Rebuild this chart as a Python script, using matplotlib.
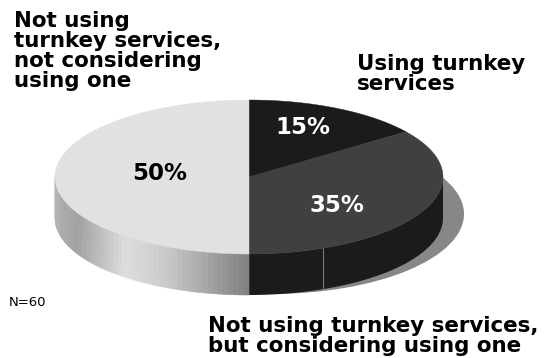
import numpy as np
import matplotlib
matplotlib.use("Agg")
import matplotlib.pyplot as plt
from matplotlib.patches import Polygon, Ellipse

# ---- data ----
categories = ["Using turnkey\nservices",
              "Not using turnkey services,\nbut considering using one",
              "Not using\nturnkey services,\nnot considering\nusing one"]
values = [15, 35, 50]
pct_labels = [f"{v}%" for v in values]
note = "N=60"

top_colors = ["#1b1b1b", "#404040", "#e1e1e1"]
side_colors = ["#1b1b1b", "#1b1b1b", None]
pct_colors = ["white", "white", "black"]

# ---- geometry (pixels) ----
W, H = 547, 358
cx, cy, rx, ry, depth = 249, 177, 194, 77, 41

fig = plt.figure(figsize=(W / 100, H / 100), dpi=100)
ax = fig.add_axes([0, 0, 1, 1])
ax.set_xlim(0, W)
ax.set_ylim(H, 0)
ax.axis("off")

def pt(t, dy=0.0):
    return cx + rx * np.cos(t), cy - ry * np.sin(t) + dy

# shadow
ax.add_patch(Ellipse((271, 214), 2 * 193, 2 * 80, facecolor="#878787",
                     edgecolor="none", zorder=1))

# slice angles: start at 90 deg, clockwise
fr = np.array(values, dtype=float) / np.sum(values)
bounds = np.deg2rad(90 - 360 * np.concatenate([[0], np.cumsum(fr)]))

def grad_gray(x):
    return np.interp(x, [55, 62, 78, 125, 165, 249],
                        [0.72, 0.67, 0.63, 0.87, 0.80, 0.50])

# sides (front only: sin(t) < 0)
for i in range(len(values)):
    t0, t1 = bounds[i], bounds[i + 1]
    lo, hi = min(t0, t1), max(t0, t1)
    ts = np.linspace(lo, hi, 400)
    ts_mod = np.mod(ts, 2 * np.pi)
    front = np.sin(ts_mod) < 0
    if not front.any():
        continue
    tf = np.sort(ts_mod[front])
    if side_colors[i] is not None:
        xs, ys = pt(tf)
        xb, yb = pt(tf[::-1], depth)
        ax.add_patch(Polygon(np.column_stack([np.r_[xs, xb], np.r_[ys, yb]]),
                             closed=True, facecolor=side_colors[i],
                             edgecolor="none", zorder=2))
    else:
        edges = np.linspace(tf.min(), tf.max(), 60)
        for a, b in zip(edges[:-1], edges[1:]):
            tt = np.linspace(a, b, 5)
            xs, ys = pt(tt)
            xb, yb = pt(tt[::-1], depth)
            g = grad_gray(np.mean(xs))
            ax.add_patch(Polygon(np.column_stack([np.r_[xs, xb], np.r_[ys, yb]]),
                                 closed=True, facecolor=(g, g, g),
                                 edgecolor=(g, g, g), linewidth=0.4, zorder=2))

# thin seam on dark side
xl = 323
tl = -np.arccos((xl - cx) / rx)
x0, y0 = pt(tl)
ax.plot([x0, x0], [y0, y0 + depth], color="#7a7a7a", lw=0.8, zorder=3)

# tops
for i in range(len(values)):
    tt = np.linspace(bounds[i], bounds[i + 1], 200)
    xs, ys = pt(tt)
    poly = np.column_stack([np.r_[cx, xs], np.r_[cy, ys]])
    ax.add_patch(Polygon(poly, closed=True, facecolor=top_colors[i],
                         edgecolor=top_colors[i], linewidth=0.3, zorder=4))

# percentage labels
pct_pos = [(303, 127), (337, 206), (160, 174)]
for lab, (x, y), c in zip(pct_labels, pct_pos, pct_colors):
    ax.text(x, y, lab, ha="center", va="center", color=c, fontsize=16.5,
            fontweight="bold", family="DejaVu Sans", zorder=5)

# category labels
cat_pos = [(357, 54), (208, 316), (14, 11)]
for lab, (x, y) in zip(categories, cat_pos):
    ax.text(x, y, lab, ha="left", va="top", color="black", fontsize=15.4,
            fontweight="bold", family="DejaVu Sans", linespacing=1.0, zorder=5)

ax.text(9, 303, note, ha="left", va="center", fontsize=9.5, color="black",
        family="DejaVu Sans")

fig.savefig("out.png", dpi=100)
